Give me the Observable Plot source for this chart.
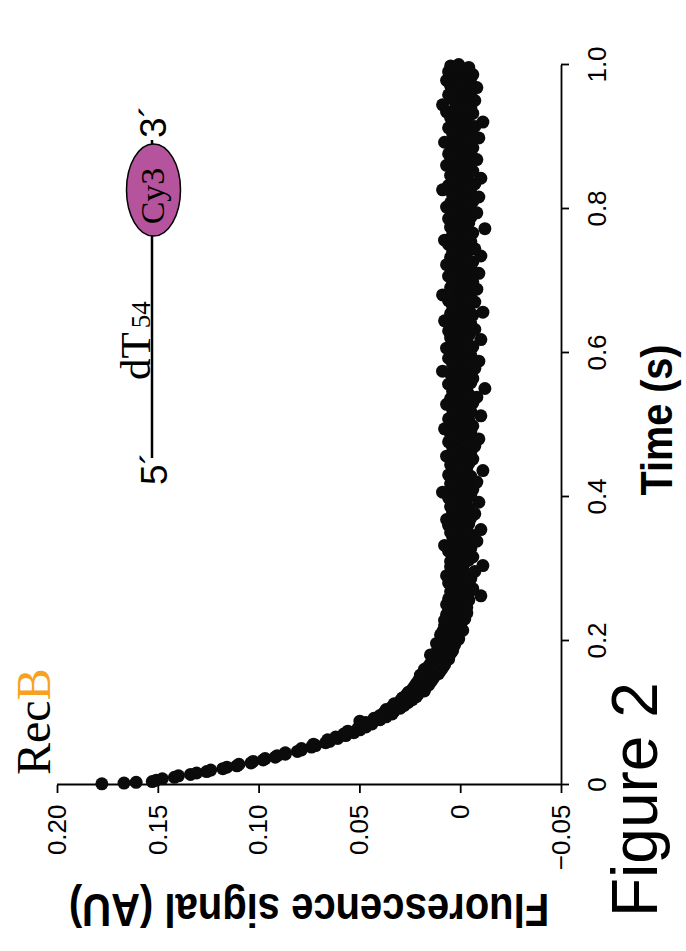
<!DOCTYPE html>
<html><head><meta charset="utf-8">
<script src="https://cdn.jsdelivr.net/npm/d3@7"></script>
<script src="https://cdn.jsdelivr.net/npm/@observablehq/plot@0.6"></script>
<style>
html,body{margin:0;padding:0;background:#fff;}
body{width:686px;height:951px;overflow:hidden;position:relative;}
#fig{position:absolute;left:0;top:0;width:951px;height:686px;transform-origin:0 0;transform:translateY(951px) rotate(-90deg);background:#fff;}
#fig svg{position:absolute;left:0;top:0;}
</style></head><body><div id="fig"></div>
<script>
// Sample times (ms)
const timeMs = [
1,2,3,
4,6,8,10,12,14,16,18,20,22,
24,26,28,30,32,34,36,38,40,42,
44,46,48,50,52,54,56,58,60,62,
64,66,68,70,72,74,76,78,80,82,
84,86,88,90,92,94,96,98,100,102,
104,106,108,110,112,114,116,118,120,122,
124,126,128,130,132,134,136,138,140,142,
144,146,148,150,152,154,156,158,160,162,
164,166,168,170,172,174,176,178,180,182,
184,186,188,190,192,194,196,198,200,202,
204,206,208,210,212,214,216,218,220,222,
224,226,228,230,232,234,236,238,240,242,
244,246,248,250,252,254,256,258,260,262,
264,266,268,270,272,274,276,278,280,282,
284,286,288,290,292,294,296,298,300,302,
304,306,308,310,312,314,316,318,320,322,
324,326,328,330,332,334,336,338,340,342,
344,346,348,350,352,354,356,358,360,362,
364,366,368,370,372,374,376,378,380,382,
384,386,388,390,392,394,396,398,400,402,
404,406,408,410,412,414,416,418,420,422,
424,426,428,430,432,434,436,438,440,442,
444,446,448,450,452,454,456,458,460,462,
464,466,468,470,472,474,476,478,480,482,
484,486,488,490,492,494,496,498,500,502,
504,506,508,510,512,514,516,518,520,522,
524,526,528,530,532,534,536,538,540,542,
544,546,548,550,552,554,556,558,560,562,
564,566,568,570,572,574,576,578,580,582,
584,586,588,590,592,594,596,598,600,602,
604,606,608,610,612,614,616,618,620,622,
624,626,628,630,632,634,636,638,640,642,
644,646,648,650,652,654,656,658,660,662,
664,666,668,670,672,674,676,678,680,682,
684,686,688,690,692,694,696,698,700,702,
704,706,708,710,712,714,716,718,720,722,
724,726,728,730,732,734,736,738,740,742,
744,746,748,750,752,754,756,758,760,762,
764,766,768,770,772,774,776,778,780,782,
784,786,788,790,792,794,796,798,800,802,
804,806,808,810,812,814,816,818,820,822,
824,826,828,830,832,834,836,838,840,842,
844,846,848,850,852,854,856,858,860,862,
864,866,868,870,872,874,876,878,880,882,
884,886,888,890,892,894,896,898,900,902,
904,906,908,910,912,914,916,918,920,922,
924,926,928,930,932,934,936,938,940,942,
944,946,948,950,952,954,956,958,960,962,
964,966,968,970,972,974,976,978,980,982,
984,986,988,990,992,994,996,998,1000
];
// Fluorescence signal (AU)
const signalAU = [
0.178,0.167,0.161,
0.153,0.151,0.148,0.142,0.140,0.134,0.131,0.126,0.124,0.118,
0.116,0.111,0.110,0.104,0.103,0.098,0.097,0.092,0.091,0.087,
0.087,0.081,0.079,0.079,0.074,0.072,0.073,0.067,0.065,0.066,
0.061,0.062,0.057,0.058,0.053,0.056,0.050,0.051,0.047,0.049,
0.044,0.047,0.050,0.040,0.043,0.037,0.040,0.034,0.038,0.033,
0.037,0.030,0.034,0.028,0.033,0.026,0.030,0.024,0.029,0.022,
0.027,0.021,0.026,0.018,0.024,0.019,0.023,0.016,0.022,0.015,
0.021,0.014,0.019,0.013,0.020,0.011,0.017,0.010,0.018,0.009,
0.016,0.008,0.015,0.010,0.014,0.006,0.013,0.008,0.015,0.005,
0.012,0.004,0.011,0.007,0.010,0.003,0.012,0.005,0.009,0.001,
0.008,0.002,0.010,0.003,0.009,-0.001,0.007,0.003,0.008,0.000,
0.006,0.001,0.008,-0.002,0.005,0.002,0.007,-0.003,0.004,0.001,
0.006,-0.003,0.003,0.007,-0.001,0.004,-0.004,0.006,0.001,-0.010,
0.002,-0.004,0.005,0.000,-0.006,0.004,0.001,-0.003,0.006,-0.001,
0.003,-0.005,0.001,0.007,-0.002,0.004,-0.007,0.002,-0.001,0.005,
-0.011,0.003,-0.002,0.005,-0.004,0.001,-0.006,0.004,0.000,-0.003,
0.006,-0.001,-0.005,0.002,0.008,-0.003,0.001,-0.008,0.003,-0.002,
0.004,-0.006,0.000,0.005,-0.003,-0.010,0.002,-0.001,0.006,-0.004,
0.001,-0.002,0.007,-0.005,0.003,-0.001,-0.007,0.004,0.000,0.002,
-0.004,0.005,-0.002,0.001,-0.009,0.003,-0.003,0.006,-0.001,-0.005,
0.002,0.009,-0.002,-0.006,0.004,0.000,-0.003,0.005,-0.008,0.001,
-0.001,0.003,-0.005,0.006,-0.002,0.001,-0.011,0.004,-0.003,0.000,
0.005,-0.004,0.002,-0.001,-0.006,0.003,0.007,-0.003,0.000,-0.005,
0.002,-0.002,0.004,-0.007,0.001,-0.004,0.006,-0.001,-0.009,0.003,
-0.003,0.005,0.000,-0.005,0.002,0.008,-0.002,-0.006,0.004,-0.001,
0.001,-0.004,0.006,-0.002,-0.010,0.003,0.000,-0.005,0.004,-0.001,
-0.003,0.002,0.007,-0.006,0.001,-0.002,0.005,-0.008,0.003,-0.004,
0.000,0.004,-0.003,-0.012,0.002,-0.001,0.006,-0.005,0.001,0.003,
-0.006,0.002,-0.002,0.005,-0.004,0.009,0.000,-0.007,0.003,-0.001,
0.004,-0.003,-0.009,0.001,0.006,-0.002,-0.005,0.003,0.000,-0.004,
0.002,0.007,-0.006,-0.001,0.004,-0.003,0.001,-0.010,0.005,-0.002,
-0.004,0.003,0.000,0.006,-0.007,0.002,-0.002,0.004,-0.005,0.001,
0.008,-0.003,-0.001,0.003,-0.006,0.005,-0.011,0.000,0.002,-0.004,
0.004,-0.002,0.001,-0.007,0.006,-0.001,-0.004,0.003,0.009,-0.005,
-0.002,0.002,-0.008,0.005,0.000,-0.003,0.004,-0.006,0.001,0.003,
-0.004,0.006,-0.001,-0.009,0.002,0.004,-0.005,0.000,-0.002,0.007,
0.001,-0.006,0.003,-0.003,0.005,-0.010,0.002,-0.001,0.004,-0.004,
-0.007,0.003,0.000,0.006,-0.002,-0.005,0.008,-0.001,0.002,-0.003,
0.004,-0.006,0.001,-0.003,-0.012,0.005,-0.001,0.003,-0.004,0.002,
-0.002,0.006,-0.005,0.000,0.003,-0.008,0.004,-0.001,-0.004,0.007,
0.001,-0.003,0.005,-0.006,0.002,-0.001,-0.009,0.004,0.000,-0.004,
0.003,0.009,-0.005,-0.002,0.006,-0.007,0.001,-0.003,0.004,-0.010,
-0.001,0.005,-0.004,0.002,-0.006,0.003,0.000,-0.002,0.007,-0.005,
0.002,-0.003,-0.008,0.004,0.001,-0.005,0.006,-0.001,-0.003,0.003,
-0.006,0.000,0.005,-0.002,0.008,-0.004,0.002,-0.009,0.003,-0.001,
0.004,-0.005,0.001,-0.003,0.006,-0.007,0.000,0.003,-0.011,0.002,
-0.002,0.005,-0.004,0.001,-0.006,0.007,-0.001,0.003,-0.005,0.000,
0.009,-0.003,0.002,-0.007,0.004,-0.001,-0.005,0.006,0.001,-0.004,
0.003,-0.002,-0.008,0.005,0.000,-0.005,0.002,0.007,-0.003,-0.001,
0.004,-0.006,0.001,0.006,-0.003,0.002,-0.004,0.005,0.001
];
const timeTicks = [0, 0.2, 0.4, 0.6, 0.8, 1.0];
const timeTickLabels = ["0", "0.2", "0.4", "0.6", "0.8", "1.0"];
const signalTicks = [-0.05, 0, 0.05, 0.10, 0.15, 0.20];
const signalTickLabels = ["\u22120.05", "0", "0.05", "0.10", "0.15", "0.20"];
const xTitle = "Time (s)";
const yTitle = "Fluorescence signal (AU)";
const proteinParts = ["Rec", "B"];
const figureLabel = "Figure 2";
const substrateLabels = {five: "5\u00B4", three: "3\u00B4", strand: "dT", length: "54", dye: "Cy3"};

const n = Math.min(timeMs.length, signalAU.length);
const data = timeMs.slice(0, n).map((t, i) => ({time: t / 1000, signal: signalAU[i]}));
const timeFmt = new Map(timeTicks.map((d, i) => [d, timeTickLabels[i]]));
const sigFmt = new Map(signalTicks.map((d, i) => [d, signalTickLabels[i]]));

const W = 951, H = 686;
const sans = "'Liberation Sans', Arial, Helvetica, sans-serif";
const serif = "'Liberation Serif', 'Times New Roman', Times, serif";

const chart = Plot.plot({
  width: W, height: H,
  marginLeft: 166, marginRight: 65, marginTop: 57, marginBottom: 125,
  style: {fontFamily: sans, fontSize: "26px", color: "#000", background: "transparent", overflow: "visible"},
  x: {domain: [0, 1], label: null},
  y: {domain: [-0.05, 0.20], label: null},
  marks: [
    Plot.ruleX([0], {stroke: "#000", strokeWidth: 1.8}),
    Plot.ruleY([-0.05], {stroke: "#000", strokeWidth: 1.8}),
    Plot.axisX({ticks: timeTicks, tickFormat: d => timeFmt.get(d), tickSize: 8, tickPadding: 18, fontSize: 26, strokeWidth: 1.8, label: null}),
    Plot.axisY({ticks: signalTicks, tickFormat: d => sigFmt.get(d), tickSize: 8, tickPadding: 12, fontSize: 26, strokeWidth: 1.8, label: null}),
    Plot.dot(data, {x: "time", y: "signal", r: 6.5, fill: "#0a0b0a", stroke: "none"})
  ]
});
document.getElementById("fig").appendChild(chart);

// Titles and schematic overlay
const xs = chart.scale("x"), ys = chart.scale("y");
const xMid = (xs.range[0] + xs.range[1]) / 2;
const yMid = (ys.range[0] + ys.range[1]) / 2;
const ov = d3.select("#fig").append("svg").attr("width", W).attr("height", H);

ov.append("text")
  .attr("transform", `translate(57,${yMid}) rotate(-90) scale(0.87,1)`)
  .attr("text-anchor", "middle").attr("font-family", sans).attr("font-weight", "bold")
  .attr("font-size", 46).attr("fill", "#000").text(yTitle);

ov.append("text")
  .attr("transform", `translate(${xMid + 5},672) scale(0.9,1)`)
  .attr("text-anchor", "middle").attr("font-family", sans).attr("font-weight", "bold")
  .attr("font-size", 44).attr("fill", "#000").text(xTitle);

ov.append("text").attr("x", 34).attr("y", 657).attr("font-family", sans)
  .attr("font-size", 64).attr("fill", "#000").text(figureLabel);

const rec = ov.append("text").attr("x", 176).attr("y", 50).attr("font-family", serif).attr("font-size", 48);
rec.append("tspan").attr("fill", "#000").text(proteinParts[0]);
rec.append("tspan").attr("fill", "#f7a11f").text(proteinParts[1]);

// substrate schematic
const g = ov.append("g");
g.append("line").attr("x1", 493).attr("x2", 811).attr("y1", 152).attr("y2", 152)
  .attr("stroke", "#000").attr("stroke-width", 2.5);
g.append("ellipse").attr("cx", 761).attr("cy", 153.5).attr("rx", 46).attr("ry", 27)
  .attr("fill", "#b5549c").attr("stroke", "#000").attr("stroke-width", 1.5);
g.append("text").attr("x", 755).attr("y", 164).attr("text-anchor", "middle")
  .attr("font-family", serif).attr("font-size", 34).attr("fill", "#000").text(substrateLabels.dye);
const dt = g.append("text").attr("x", 571).attr("y", 150).attr("font-family", serif).attr("font-size", 43).attr("fill", "#000");
dt.append("tspan").text(substrateLabels.strand);
dt.append("tspan").attr("dx", 4).attr("font-size", 27).text(substrateLabels.length);
g.append("text").attr("x", 466).attr("y", 167).attr("font-family", sans).attr("font-size", 37).attr("fill", "#000").text(substrateLabels.five);
g.append("text").attr("x", 813).attr("y", 166).attr("font-family", sans).attr("font-size", 37).attr("fill", "#000").text(substrateLabels.three);
</script>
</body></html>
